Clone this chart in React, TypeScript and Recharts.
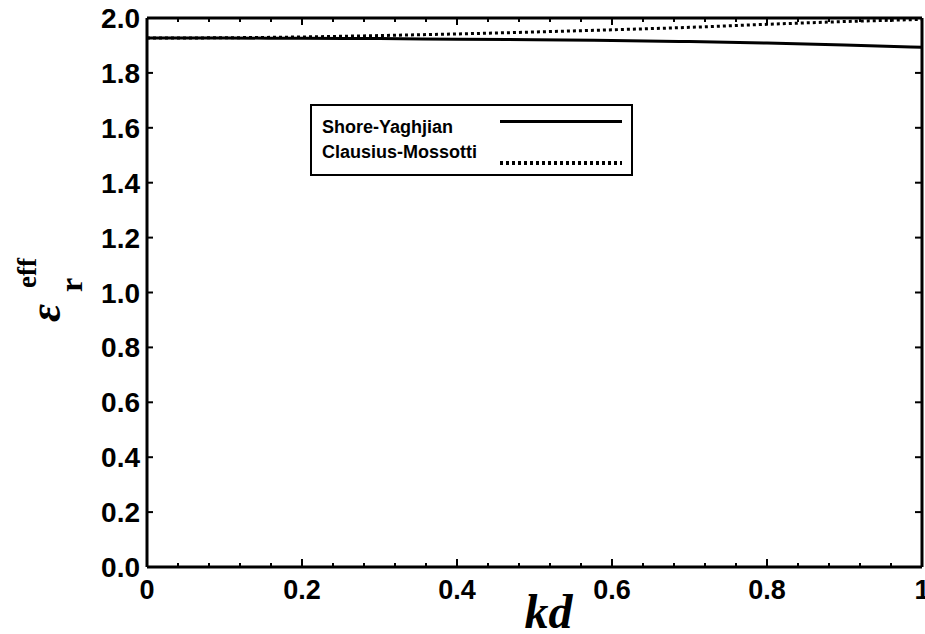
import { Legend, Line, LineChart, XAxis, YAxis } from "recharts";

// kd sample points and the two effective-permittivity curves
const KD = [0, 0.1, 0.2, 0.3, 0.4, 0.5, 0.6, 0.7, 0.8, 0.9, 1.0];
const SHORE_YAGHJIAN = [1.927, 1.927, 1.926, 1.925, 1.923, 1.921, 1.918, 1.914, 1.909, 1.902, 1.893];
const CLAUSIUS_MOSSOTTI = [1.927, 1.928, 1.931, 1.936, 1.942, 1.949, 1.957, 1.966, 1.977, 1.987, 1.995];

const X_MAJOR = [0, 0.2, 0.4, 0.6, 0.8, 1.0];
const X_TICKS = [0, 0.04, 0.08, 0.12, 0.16, 0.2, 0.24, 0.28, 0.32, 0.36, 0.4, 0.44, 0.48, 0.52, 0.56, 0.6, 0.64, 0.68, 0.72, 0.76, 0.8, 0.84, 0.88, 0.92, 0.96, 1.0];
const Y_TICKS = [0, 0.2, 0.4, 0.6, 0.8, 1.0, 1.2, 1.4, 1.6, 1.8, 2.0];

const SERIES = [
  { key: "cm", name: "Clausius-Mossotti", dash: "3 3" },
  { key: "sy", name: "Shore-Yaghjian", dash: undefined },
];

const data = KD.map((kd, i) => ({ kd, sy: SHORE_YAGHJIAN[i], cm: CLAUSIUS_MOSSOTTI[i] }));

const SANS = "'Liberation Sans', Arial, sans-serif";
const SERIF = "'Liberation Serif', 'Times New Roman', serif";
const frame = { stroke: "#000", strokeWidth: 3 };

const isMajorX = (v: number) => X_MAJOR.some((m) => Math.abs(m - v) < 1e-6);
const fmtX = (v: number) => (v === 0 ? "0" : v === 1 ? "1" : v.toFixed(1));

// bottom axis: inward tick + label under it
function BottomTick({ x, y, payload }: any) {
  const major = isMajorX(payload.value);
  return (
    <g>
      <line x1={x} x2={x} y1={y} y2={y - (major ? 8 : 4)} stroke="#000" strokeWidth={2} />
      {major && (
        <text x={x} y={y + 32} textAnchor="middle" fontFamily={SANS} fontWeight={700} fontSize={27} fill="#000">
          {fmtX(payload.value)}
        </text>
      )}
    </g>
  );
}

function TopTick({ x, y, payload }: any) {
  const major = isMajorX(payload.value);
  return <line x1={x} x2={x} y1={y} y2={y + (major ? 7 : 4)} stroke="#000" strokeWidth={2} />;
}

function LeftTick({ x, y, payload }: any) {
  return (
    <g>
      <line x1={x} x2={x + 6} y1={y} y2={y} stroke="#000" strokeWidth={2} />
      <text x={x - 7} y={y + 10} textAnchor="end" fontFamily={SANS} fontWeight={700} fontSize={28} fill="#000">
        {payload.value.toFixed(1)}
      </text>
    </g>
  );
}

function RightTick({ x, y }: any) {
  return <line x1={x} x2={x - 7} y1={y} y2={y} stroke="#000" strokeWidth={2} />;
}

function XLabel({ viewBox }: any) {
  if (!viewBox) return null;
  return (
    <text
      x={viewBox.x + viewBox.width / 2 + 14}
      y={viewBox.y + 61}
      textAnchor="middle"
      fontFamily={SERIF}
      fontStyle="italic"
      fontWeight={700}
      fontSize={48}
      fill="#000"
    >
      kd
    </text>
  );
}

function YLabel({ viewBox }: any) {
  if (!viewBox) return null;
  const cx = viewBox.x + viewBox.width - 97;
  const cy = viewBox.y + viewBox.height / 2 + 7.5;
  return (
    <g transform={`translate(${cx},${cy}) rotate(-90)`} fill="#000" fontFamily={SERIF}>
      <text x={-22} y={10} fontStyle="italic" fontWeight={700} fontSize={44}>
        ε
      </text>
      <text x={8} y={32} fontWeight={700} fontSize={32}>
        r
      </text>
      <text x={12} y={-14} fontWeight={700} fontSize={27}>
        eff
      </text>
    </g>
  );
}

function LegendBox() {
  return (
    <div
      style={{
        width: 323,
        height: 72,
        boxSizing: "border-box",
        border: "2px solid #000",
        background: "#fff",
      }}
    >
      <svg width={319} height={68} style={{ display: "block" }}>
        {[SERIES[1], SERIES[0]].map((s, i) => (
          <g key={s.key}>
            <text x={10} y={27 + i * 25} fontFamily={SANS} fontWeight={700} fontSize={18} fill="#000">
              {s.name}
            </text>
            <line
              x1={188}
              x2={310}
              y1={15.5 + i * 41.5}
              y2={15.5 + i * 41.5}
              stroke="#000"
              strokeWidth={s.dash ? 4 : 3}
              strokeDasharray={s.dash}
            />
          </g>
        ))}
      </svg>
    </div>
  );
}

export default function App() {
  return (
    <div style={{ position: "fixed", left: 0, top: 0, background: "#fff" }}>
      <LineChart width={925} height={634} data={data} margin={{ top: 18, right: 3, bottom: 37, left: 97 }}>
        <XAxis
          xAxisId="x"
          dataKey="kd"
          type="number"
          domain={[0, 1]}
          allowDataOverflow
          ticks={X_TICKS}
          interval={0}
          tick={<BottomTick />}
          tickLine={false}
          tickSize={0}
          tickMargin={0}
          axisLine={frame}
          height={30}
          label={<XLabel />}
        />
        <YAxis
          yAxisId="y"
          type="number"
          domain={[0, 2]}
          allowDataOverflow
          ticks={Y_TICKS}
          interval={0}
          tick={<LeftTick />}
          tickLine={false}
          tickSize={0}
          tickMargin={0}
          axisLine={frame}
          width={50}
          label={<YLabel />}
        />
        {/* top and right edges of the frame, ticks pointing inward */}
        <XAxis
          xAxisId="top"
          dataKey="kd"
          orientation="top"
          type="number"
          domain={[0, 1]}
          allowDataOverflow
          ticks={X_TICKS}
          interval={0}
          mirror
          height={1}
          tick={<TopTick />}
          tickLine={false}
          tickSize={0}
          tickMargin={0}
          axisLine={frame}
        />
        <YAxis
          yAxisId="right"
          orientation="right"
          type="number"
          domain={[0, 2]}
          allowDataOverflow
          ticks={Y_TICKS}
          interval={0}
          mirror
          width={1}
          tick={<RightTick />}
          tickLine={false}
          tickSize={0}
          tickMargin={0}
          axisLine={frame}
        />
        {SERIES.map((s) => (
          <Line
            key={s.key}
            xAxisId="x"
            yAxisId="y"
            type="monotone"
            dataKey={s.key}
            name={s.name}
            stroke="#000"
            strokeWidth={3}
            strokeDasharray={s.dash}
            dot={false}
            activeDot={false}
            isAnimationActive={false}
          />
        ))}
        <Legend
          layout="vertical"
          align="center"
          verticalAlign="middle"
          wrapperStyle={{ left: 310, top: 104, width: 323, height: 72 }}
          content={<LegendBox />}
        />
      </LineChart>
    </div>
  );
}
